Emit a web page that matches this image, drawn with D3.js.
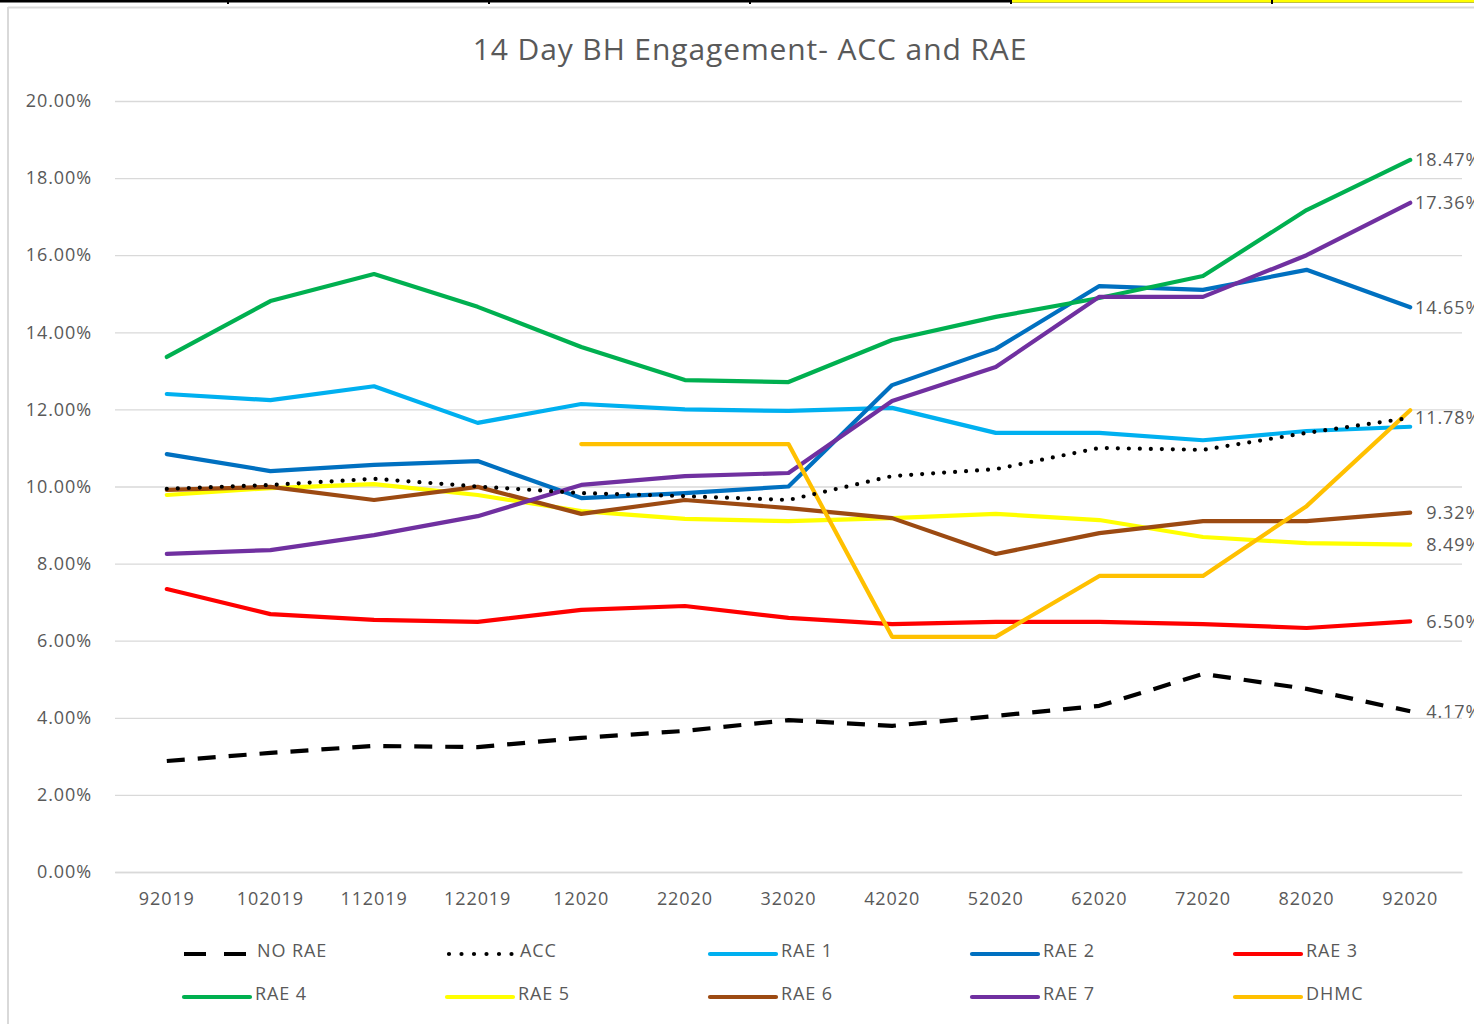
<!DOCTYPE html>
<html>
<head>
<meta charset="utf-8">
<script src="https://cdn.jsdelivr.net/npm/d3@7"></script>
<style>
html,body{margin:0;padding:0;background:#fff;}
svg{display:block;}
text{font-family:"Open Sans","Noto Sans",sans-serif;fill:#595959;}
</style>
</head>
<body>
<svg id="chart" width="1474" height="1024"></svg>
<script>
const title = "14 Day BH Engagement- ACC and RAE";
const categories = ["92019","102019","112019","122019","12020","22020","32020","42020","52020","62020","72020","82020","92020"];
const yTicks = [0,2,4,6,8,10,12,14,16,18,20];

const noRae = [2.88,3.09,3.27,3.24,3.48,3.66,3.94,3.79,4.05,4.31,5.14,4.75,4.17];
const acc   = [9.94,10.04,10.20,10.00,9.83,9.75,9.65,10.27,10.45,11.00,10.95,11.39,11.78];
const rae1  = [12.40,12.24,12.60,11.65,12.14,12.00,11.96,12.04,11.39,11.39,11.20,11.44,11.55];
const rae2  = [10.84,10.40,10.56,10.66,9.70,9.83,10.00,12.63,13.57,15.20,15.10,15.62,14.65];
const rae3  = [7.34,6.69,6.54,6.49,6.80,6.90,6.59,6.43,6.49,6.49,6.43,6.33,6.50];
const rae4  = [13.36,14.81,15.51,14.66,13.62,12.76,12.71,13.80,14.40,14.89,15.46,17.17,18.47];
const rae5  = [9.78,9.96,10.06,9.78,9.36,9.16,9.10,9.18,9.29,9.13,8.69,8.53,8.49];
const rae6  = [9.91,9.99,9.65,9.99,9.29,9.65,9.44,9.18,8.25,8.79,9.10,9.10,9.32];
const rae7  = [8.25,8.35,8.74,9.23,10.04,10.27,10.35,12.22,13.10,14.92,14.92,16.00,17.36];
const dhmc  = [null,null,null,null,11.10,11.10,11.10,6.10,6.10,7.68,7.68,9.49,11.98];

const seriesNames  = ["NO RAE","ACC","RAE 1","RAE 2","RAE 3","RAE 4","RAE 5","RAE 6","RAE 7","DHMC"];
const seriesValues = [noRae,acc,rae1,rae2,rae3,rae4,rae5,rae6,rae7,dhmc];
const seriesColors = ["#000000","#000000","#00B0F0","#0070C0","#FF0000","#00B050","#FFFF00","#9C4A12","#7030A0","#FFC000"];
const seriesDash   = ["18,13","0,11",null,null,null,null,null,null,null,null];
const endLabels    = [true,true,false,true,true,true,true,true,true,false];
const drawOrder    = [0,2,3,4,5,6,7,8,9,1];

const svg = d3.select("#chart");
const FONT = "'Open Sans','Noto Sans',sans-serif";

// frame decorations
svg.append("rect").attr("x",0).attr("y",0).attr("width",1474).attr("height",2.5).attr("fill","#000");
svg.append("rect").attr("x",1012).attr("y",0).attr("width",462).attr("height",2.5).attr("fill","#FFFF00");
[228,489,750,1011,1272].forEach(x=>{
  svg.append("rect").attr("x",x-1).attr("y",0).attr("width",2).attr("height",4).attr("fill","#000");
});
svg.append("line").attr("x1",8).attr("x2",1474).attr("y1",7.5).attr("y2",7.5).attr("stroke","#d9d9d9").attr("stroke-width",2);
svg.append("line").attr("x1",8).attr("x2",8).attr("y1",7).attr("y2",1024).attr("stroke","#d9d9d9").attr("stroke-width",2);

const plotLeft = 115, plotRight = 1462, plotTop = 101, plotBottom = 872;
const x = d3.scaleBand().domain(categories).range([plotLeft, plotRight]);
const y = d3.scaleLinear().domain([0,20]).range([plotBottom, plotTop]);
const cx = c => x(c) + x.bandwidth()/2;

// gridlines
const yAxis = d3.axisLeft(y).tickValues(yTicks).tickSize(-(plotRight-plotLeft)).tickPadding(23)
  .tickFormat(d => d.toFixed(2) + "%");
const gy = svg.append("g").attr("transform",`translate(${plotLeft},0)`).call(yAxis);
gy.select(".domain").remove();
gy.selectAll(".tick line").attr("stroke","#d9d9d9").attr("stroke-width",1.3);
gy.selectAll(".tick text").attr("font-size",18).attr("fill","#595959")
  .attr("letter-spacing","0.9px").style("font-family",FONT);

// x axis
const xAxis = d3.axisBottom(x).tickSize(0).tickPadding(20);
const gx = svg.append("g").attr("transform",`translate(0,${plotBottom})`).call(xAxis);
gx.select(".domain").attr("stroke","#d9d9d9").attr("stroke-width",1.3);
gx.selectAll(".tick text").attr("font-size",18).attr("fill","#595959")
  .attr("letter-spacing","0.9px").style("font-family",FONT);

// title
svg.append("text").attr("x",750).attr("y",60).attr("text-anchor","middle")
  .attr("font-size",30).attr("letter-spacing","0.9px").attr("fill","#595959").text(title);

// lines
const line = d3.line().defined(d => d.v !== null).x(d => cx(d.c)).y(d => y(d.v));
drawOrder.forEach(i => {
  const data = categories.map((c,k)=>({c, v: seriesValues[i][k]}));
  const p = svg.append("path").datum(data).attr("d", line)
    .attr("fill","none").attr("stroke",seriesColors[i]).attr("stroke-width",4.2)
    .attr("stroke-linejoin","round");
  if (seriesDash[i]) {
    p.attr("stroke-dasharray", seriesDash[i]);
    p.attr("stroke-linecap", i===1 ? "round" : "butt");
  } else {
    p.attr("stroke-linecap","round");
  }
});

// end labels
const lastCat = categories[categories.length-1];
seriesValues.forEach((vals,i) => {
  if (!endLabels[i]) return;
  const v = vals[vals.length-1];
  svg.append("text").attr("x", cx(lastCat) + 71).attr("y", y(v)).attr("dy","0.36em")
    .attr("text-anchor","end").attr("font-size",18).attr("letter-spacing","0.9px")
    .attr("fill","#595959").text(v.toFixed(2) + "%");
});

// legend
const legCols = [184,447,710,972,1235];
const legRows = [951,994];
seriesNames.forEach((name,i) => {
  const col = i % 5, row = Math.floor(i/5);
  const lx = legCols[col], ly = legRows[row];
  const seg = svg.append("line").attr("x1",lx).attr("x2",lx+66).attr("y1",ly+3).attr("y2",ly+3)
    .attr("stroke",seriesColors[i]).attr("stroke-width",4.2);
  if (seriesDash[i]) {
    seg.attr("stroke-dasharray", i===0 ? "22,18" : "0,12.5")
       .attr("stroke-linecap", i===1 ? "round" : "butt");
    if (i===1) seg.attr("x1",lx+2).attr("x2",lx+66);
  } else {
    seg.attr("stroke-linecap","round");
  }
  const tx = (i===0) ? lx+73 : (i===1 ? lx+73 : lx+71);
  svg.append("text").attr("x",tx).attr("y",ly).attr("dy","0.36em")
    .attr("font-size",18).attr("letter-spacing","0.9px")
    .attr("fill","#595959").text(name);
});
</script>
</body>
</html>
